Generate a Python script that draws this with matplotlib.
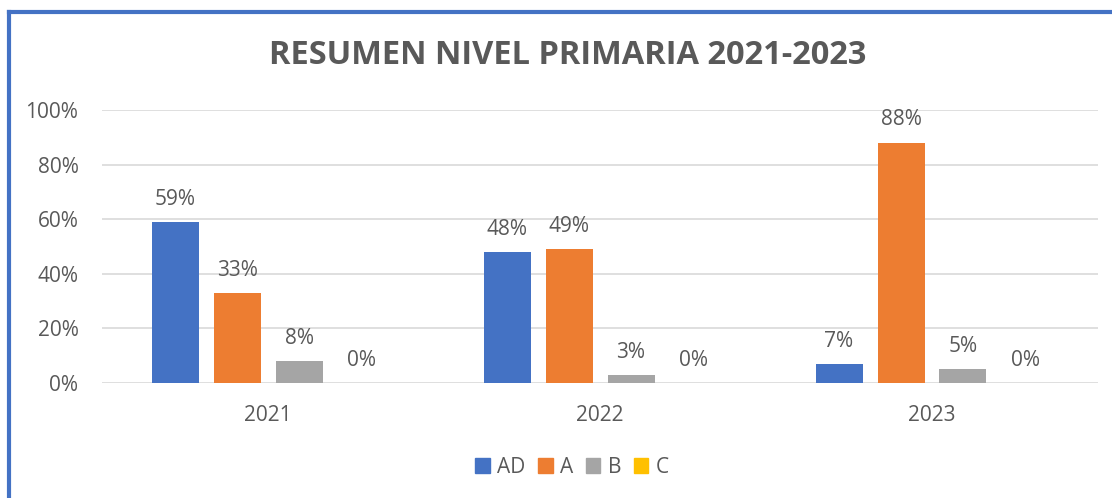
import numpy as np
import matplotlib.pyplot as plt
from matplotlib.patches import Patch

years = ['2021', '2022', '2023']
series_names = ['AD', 'A', 'B', 'C']
ad_vals = [59, 48, 7]
a_vals = [33, 49, 88]
b_vals = [8, 3, 5]
c_vals = [0, 0, 0]
colors = ['#4472C4', '#ED7D31', '#A5A5A5', '#FFC000']

txt = '#595959'
plt.rcParams['font.family'] = ['Open Sans', 'DejaVu Sans']

fig = plt.figure(figsize=(11.12, 4.98), dpi=100)
W, H = 1112, 498
ax = fig.add_axes([102 / W, 1 - 383 / H, (1098 - 102) / W, (383 - 110) / H])

x = np.arange(len(years))
slot = 62 / 332
width = 47 / 332
all_vals = [ad_vals, a_vals, b_vals, c_vals]
for i, (vals, col) in enumerate(zip(all_vals, colors)):
  pos = x + (i - 1.5) * slot
  ax.bar(pos, vals, width=width, color=col, zorder=3)
  for p, v in zip(pos, vals):
    ax.text(p, v + 4.5, f'{v}%', ha='center', va='bottom', fontsize=15, color=txt)

ax.set_xlim(-0.5, 2.5)
ax.set_ylim(0, 100)
ax.set_yticks(range(0, 101, 20))
ax.set_yticklabels([f'{t}%' for t in range(0, 101, 20)])
ax.set_xticks(x)
ax.set_xticklabels(years)
ax.tick_params(length=0, labelsize=15, labelcolor=txt)
ax.tick_params(axis='y', pad=17)
ax.tick_params(axis='x', pad=16)
ax.grid(axis='y', color='#D9D9D9', linewidth=1.2, zorder=0)
for s in ax.spines.values():
  s.set_visible(False)

fig.text(568 / W, 1 - 55 / H, 'RESUMEN NIVEL PRIMARIA 2021-2023', ha='center', va='center',
         fontsize=23.5, fontweight='bold', color=txt)

handles = [Patch(color=c, label=n) for c, n in zip(colors, series_names)]
fig.legend(handles=handles, loc='center', bbox_to_anchor=(572 / W, 1 - 467 / H), ncol=4,
           frameon=False, fontsize=15, handlelength=0.7, handleheight=0.7,
           handletextpad=0.35, columnspacing=0.6, labelcolor=txt)

# blue frame on top and left
fig.add_artist(plt.Line2D([9 / W, 1], [1 - 12 / H, 1 - 12 / H], color='#4472C4', linewidth=3))
fig.add_artist(plt.Line2D([9 / W, 9 / W], [0, 1 - 12 / H], color='#4472C4', linewidth=3))

fig.savefig('out.png', dpi=100)
